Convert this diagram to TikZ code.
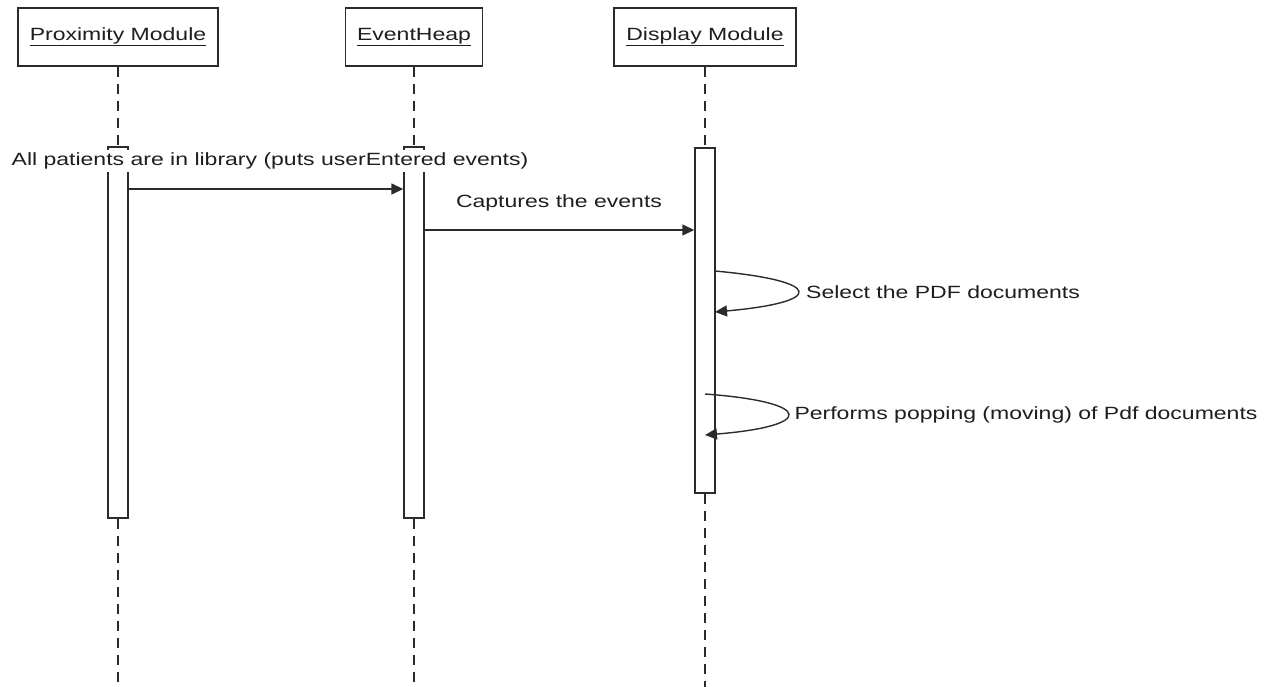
\documentclass[tikz,border=0pt]{standalone}
\usepackage{fontspec}
\usepackage{graphicx}
\setmainfont{Liberation Sans}
\usetikzlibrary{arrows.meta}

% wide text, as set by the modelling tool
\newcommand{\widetext}[1]{\scalebox{1.3}[1]{#1}}

\definecolor{inkline}{HTML}{2B2B2B}
\definecolor{inktext}{HTML}{1E1E1E}

\tikzset{
  objbox/.style={draw=inkline, line width=1.8pt, fill=white, minimum height=58pt,
    inner sep=0pt, text=inktext, font=\fontsize{17.7}{20}\selectfont},
  actbar/.style={draw=inkline, line width=1.4pt, fill=white, minimum width=20pt,
    inner sep=0pt},
  lifeline/.style={draw=inkline, line width=1.4pt, dash pattern=on 10pt off 7pt},
  msg/.style={draw=inkline, line width=1.4pt, -{Triangle[length=12pt,width=11pt]}},
  msglabel/.style={fill=white, inner sep=3pt, text=inktext,
    font=\fontsize{17.7}{20}\selectfont},
}

\begin{document}
\begin{tikzpicture}[x=1pt, y=-1pt]
  \useasboundingbox[fill=white] (0,0) rectangle (1272,687);

  % object heads
  \node[objbox, minimum width=200pt] (prox) at (118,37) {\widetext{\underline{Proximity Module}}};
  \node[objbox, minimum width=137pt] (heap) at (414,37) {\widetext{\underline{EventHeap}}};
  \node[objbox, minimum width=182pt] (disp) at (705,37) {\widetext{\underline{Display Module}}};

  % activation bars
  \node[actbar, minimum height=371pt] (proxbar) at (118,332.5) {};
  \node[actbar, minimum height=371pt] (heapbar) at (414,332.5) {};
  \node[actbar, minimum height=345pt] (dispbar) at (705,320.5) {};

  % lifeline ends at the bottom edge
  \coordinate (proxend) at (118,687);
  \coordinate (heapend) at (414,687);
  \coordinate (dispend) at (705,687);

  % lifelines
  \draw[lifeline] (prox.south) -- (proxbar.north);
  \draw[lifeline] (proxbar.south) -- (proxend);
  \draw[lifeline] (heap.south) -- (heapbar.north);
  \draw[lifeline] (heapbar.south) -- (heapend);
  \draw[lifeline] (disp.south) -- (dispbar.north);
  \draw[lifeline] (dispbar.south) -- (dispend);

  % message labels
  \node[msglabel] (l1) at (270,161) {\widetext{All patients are in library (puts userEntered events)}};
  \node[msglabel] (l2) at (559,203) {\widetext{Captures the events}};
  \node[msglabel] (l3) at (943,292) {\widetext{Select the PDF documents}};
  \node[msglabel] (l4) at (1026,415) {\widetext{Performs popping (moving) of Pdf documents}};

  % self-call end points on the display bar
  \coordinate (s1a) at (715,271);
  \coordinate (s1b) at (715,312);
  \coordinate (s2a) at (705,394);
  \coordinate (s2b) at (705,435);

  % messages
  \draw[msg] (proxbar.east |- 0,189) -- (heapbar.west |- 0,189);
  \draw[msg] (heapbar.east |- 0,230) -- (dispbar.west |- 0,230);
  \draw[msg] (s1a) .. controls (824,281) and (826,302) .. (s1b);
  \draw[msg] (s2a) .. controls (814,402) and (816,426) .. (s2b);
\end{tikzpicture}
\end{document}
